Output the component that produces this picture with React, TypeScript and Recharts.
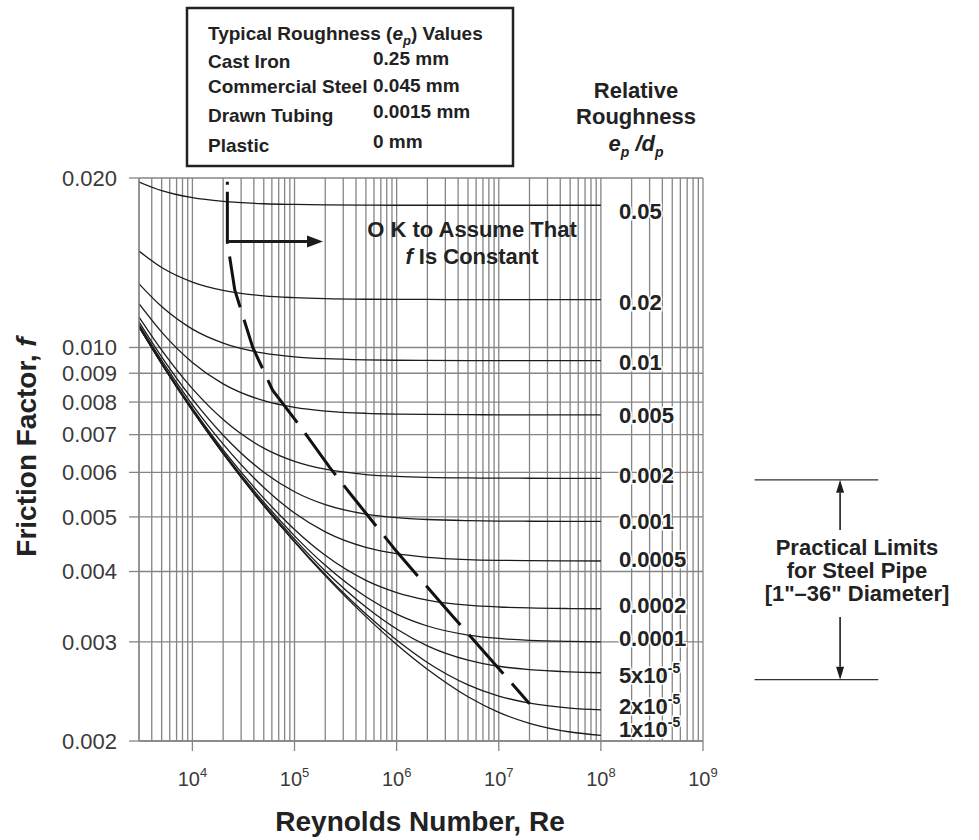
import React from "react";
import { LineChart, Line, XAxis, YAxis, CartesianGrid, ReferenceLine } from "recharts";

const FONT = "'Liberation Sans', Arial, Helvetica, sans-serif";
const GRID = "#858585";
const INK = "#1c1c1c";

const RE = [3e3, 5e3, 1e4, 2e4, 5e4, 1e5, 2e5, 5e5, 1e6, 2e6, 5e6, 1e7, 2e7, 5e7, 1e8];

// friction factor f along each relative roughness curve
const F_05 = [0.01967, 0.01899, 0.01845, 0.01817, 0.018, 0.01795, 0.01792, 0.0179, 0.01789, 0.01789, 0.01789, 0.01789, 0.01789, 0.01789, 0.01789];
const F_02 = [0.01483, 0.01387, 0.01307, 0.01263, 0.01235, 0.01226, 0.01221, 0.01218, 0.01217, 0.01217, 0.01216, 0.01216, 0.01216, 0.01216, 0.01216];
const F_01 = [0.01297, 0.01182, 0.01078, 0.01018, 0.00977, 0.009626, 0.009552, 0.009506, 0.009491, 0.009484, 0.009479, 0.009477, 0.009476, 0.009476, 0.009476];
const F_005 = [0.01196, 0.01065, 0.009408, 0.008617, 0.008044, 0.007827, 0.007711, 0.00764, 0.007616, 0.007604, 0.007597, 0.007594, 0.007593, 0.007593, 0.007593];
const F_002 = [0.01132, 0.009892, 0.008449, 0.007447, 0.006626, 0.006277, 0.006078, 0.005947, 0.005902, 0.005879, 0.005865, 0.00586, 0.005858, 0.005856, 0.005856];
const F_001 = [0.01111, 0.009626, 0.008096, 0.006986, 0.006005, 0.005543, 0.005258, 0.005059, 0.004986, 0.004948, 0.004925, 0.004917, 0.004913, 0.00491, 0.00491];
const F_0005 = [0.01099, 0.009485, 0.00791, 0.006736, 0.005641, 0.005081, 0.004705, 0.004416, 0.004303, 0.00424, 0.004201, 0.004188, 0.004182, 0.004178, 0.004176];
const F_0002 = [0.01092, 0.0094, 0.007801, 0.006578, 0.005401, 0.004751, 0.004274, 0.003858, 0.003671, 0.00356, 0.003486, 0.00346, 0.003446, 0.003438, 0.003435];
const F_0001 = [0.0109, 0.009374, 0.007761, 0.006525, 0.005312, 0.004628, 0.004102, 0.003607, 0.00336, 0.003201, 0.003085, 0.003042, 0.003019, 0.003005, 0.003];
const F_5E5 = [0.01089, 0.009364, 0.007739, 0.006497, 0.005266, 0.004567, 0.004009, 0.003459, 0.003162, 0.002952, 0.002784, 0.002715, 0.002677, 0.002653, 0.002644];
const F_2E5 = [0.01089, 0.009358, 0.00773, 0.006482, 0.00524, 0.004524, 0.003951, 0.003361, 0.003023, 0.002758, 0.002517, 0.002404, 0.002335, 0.002288, 0.002271];
const F_1E5 = [0.01088, 0.009355, 0.007725, 0.006477, 0.005232, 0.004511, 0.00393, 0.003326, 0.002968, 0.002682, 0.002397, 0.002249, 0.00215, 0.002075, 0.002047];

const CURVES = [F_05, F_02, F_01, F_005, F_002, F_001, F_0005, F_0002, F_0001, F_5E5, F_2E5, F_1E5];
const ROUGHNESS = ["0.05", "0.02", "0.01", "0.005", "0.002", "0.001", "0.0005", "0.0002", "0.0001", "5x10^-5", "2x10^-5", "1x10^-5"];
// small vertical nudges so the crowded labels do not collide
const LABEL_NUDGE = [6, 2, 1, 0, -3, 0, -2, -4, -4, 2, -4, -6];

// "OK to assume f is constant" boundary
const DASH_RE = [2.2e4, 2.2e4, 2.6e4, 3.9e4, 6.1e4, 1.17e5, 2.2e5, 3.6e5, 1e6, 2.75e6, 7.3e6, 2e7];
const DASH_F = [0.0197, 0.0154, 0.01265, 0.01, 0.0084, 0.00719, 0.00613, 0.00547, 0.00434, 0.00351, 0.00287, 0.00233];

// practical limits for 1"-36" steel pipe
const LIMITS_F = [0.00582, 0.00257];

const Y_TICKS = [0.002, 0.003, 0.004, 0.005, 0.006, 0.007, 0.008, 0.009, 0.01, 0.02];
const DECADES = [1e4, 1e5, 1e6, 1e7, 1e8, 1e9];
const X_GRID = [1e3, 1e4, 1e5, 1e6, 1e7, 1e8, 1e9]
  .flatMap((d) => [1, 2, 3, 4, 5, 6, 7, 8, 9].map((m) => m * d))
  .filter((v) => v >= 3e3 && v <= 1e9);

const data = RE.map((re, i) => {
  const row: Record<string, number> = { re };
  CURVES.forEach((c, k) => (row[`c${k}`] = c[i]));
  return row;
});
const dashData = DASH_RE.map((re, i) => ({ re, f: DASH_F[i] }));

const ReTick = (props: any) => {
  const { x, y, payload } = props;
  if (!DECADES.includes(payload.value)) return <g />;
  const exp = Math.round(Math.log10(payload.value));
  return (
    <g>
      <line x1={x} x2={x} y1={y} y2={y + 10} stroke={GRID} strokeWidth={1.3} />
      <text x={x} y={y + 45} textAnchor="middle" fontSize={20} fill="#3a3a3a" fontFamily={FONT}>
        10
        <tspan dy={-9} fontSize={13}>
          {exp}
        </tspan>
      </text>
    </g>
  );
};

const endLabel = (k: number) => (p: any) => {
  if (p.index !== RE.length - 1) return <g key={`d${k}-${p.index}`} />;
  const [base, sup] = ROUGHNESS[k].split("^");
  return (
    <text
      key={`lab${k}`}
      x={p.cx + 18}
      y={p.cy + LABEL_NUDGE[k]}
      dy="0.36em"
      fontSize={22}
      fontWeight={700}
      fill="#222"
      stroke="#fff"
      strokeWidth={3}
      paintOrder="stroke"
      fontFamily={FONT}
    >
      {base}
      {sup && (
        <tspan dy={-10} fontSize={14}>
          {sup}
        </tspan>
      )}
    </text>
  );
};

const arrow = (len: number, half: number, width: number) => (p: any) => {
  const { x1, y1, x2, y2 } = p;
  const a = Math.atan2(y2 - y1, x2 - x1);
  const bx = x2 - len * Math.cos(a);
  const by = y2 - len * Math.sin(a);
  const px = half * Math.sin(a);
  const py = half * Math.cos(a);
  return (
    <g>
      <line x1={x1} y1={y1} x2={bx} y2={by} stroke={INK} strokeWidth={width} />
      <polygon points={`${x2},${y2} ${bx - px},${by + py} ${bx + px},${by - py}`} fill={INK} />
    </g>
  );
};

const T = { fontFamily: FONT, fontWeight: 700, fill: "#222" } as const;

export default function App() {
  return (
    <div style={{ position: "absolute", left: 0, top: 0, width: 979, height: 840, background: "#fff" }}>
      <LineChart width={979} height={840} data={data} margin={{ top: 178, right: 276, bottom: 0, left: 0 }}>
        <CartesianGrid stroke={GRID} strokeWidth={1.3} />
        <XAxis
          dataKey="re"
          type="number"
          scale="log"
          domain={[3e3, 1e9]}
          allowDataOverflow
          ticks={X_GRID}
          interval={0}
          tick={ReTick}
          tickLine={false}
          tickSize={0}
          tickMargin={0}
          axisLine={{ stroke: GRID, strokeWidth: 1.3 }}
          height={99}
        />
        <YAxis
          type="number"
          scale="log"
          domain={[0.002, 0.02]}
          allowDataOverflow
          ticks={Y_TICKS}
          interval={0}
          tickFormatter={(v: number) => v.toFixed(3)}
          tick={{ fontSize: 22, fill: "#3a3a3a", fontFamily: FONT }}
          tickLine={{ stroke: GRID, strokeWidth: 1.3 }}
          tickSize={10}
          tickMargin={12}
          axisLine={{ stroke: GRID, strokeWidth: 1.3 }}
          width={139}
        />
        {CURVES.map((_, k) => (
          <Line
            key={k}
            dataKey={`c${k}`}
            type="monotone"
            stroke={INK}
            strokeWidth={1.3}
            dot={endLabel(k)}
            activeDot={false}
            isAnimationActive={false}
          />
        ))}
        <Line
          data={dashData}
          dataKey="f"
          type="linear"
          stroke="#111"
          strokeWidth={3}
          strokeDasharray="3 7 52 13 52 13 52 13 52 13 52 13 52 13 52 13 52 13 52 13 52 13 52 13 52 13"
          dot={false}
          activeDot={false}
          isAnimationActive={false}
        />
        <ReferenceLine
          segment={[{ x: 2.25e4, y: 0.01542 }, { x: 1.9e5, y: 0.01542 }]}
          ifOverflow="visible"
          shape={arrow(16, 6, 3)}
        />
        {LIMITS_F.map((f) => (
          <ReferenceLine
            key={f}
            segment={[{ x: 3.2e9, y: f }, { x: 5.2e10, y: f }]}
            ifOverflow="visible"
            stroke="#333"
            strokeWidth={1.3}
          />
        ))}
        <ReferenceLine
          segment={[{ x: 2.2e10, y: 0.00474 }, { x: 2.2e10, y: LIMITS_F[0] }]}
          ifOverflow="visible"
          shape={arrow(13, 4, 1.6)}
        />
        <ReferenceLine
          segment={[{ x: 2.2e10, y: 0.00332 }, { x: 2.2e10, y: LIMITS_F[1] }]}
          ifOverflow="visible"
          shape={arrow(13, 4, 1.6)}
        />
      </LineChart>

      <svg width={979} height={840} style={{ position: "absolute", left: 0, top: 0, pointerEvents: "none" }}>
        <rect x={187} y={8} width={326} height={158} fill="#fff" stroke="#222" strokeWidth={2.5} />
        <text x={208} y={40} fontSize={19} {...T}>
          Typical Roughness (<tspan fontStyle="italic">e</tspan>
          <tspan fontStyle="italic" fontSize={13} dy={5}>p</tspan>
          <tspan dy={-5}>) Values</tspan>
        </text>
        <text x={208} y={68} fontSize={19} {...T}>Cast Iron</text>
        <text x={373} y={65} fontSize={19} {...T}>0.25 mm</text>
        <text x={208} y={93} fontSize={19} {...T}>Commercial Steel</text>
        <text x={373} y={92} fontSize={19} {...T}>0.045 mm</text>
        <text x={208} y={122} fontSize={19} {...T}>Drawn Tubing</text>
        <text x={373} y={118} fontSize={19} {...T}>0.0015 mm</text>
        <text x={208} y={152} fontSize={19} {...T}>Plastic</text>
        <text x={373} y={148} fontSize={19} {...T}>0 mm</text>

        <text x={636} y={98} fontSize={22} textAnchor="middle" {...T}>Relative</text>
        <text x={636} y={124} fontSize={22} textAnchor="middle" {...T}>Roughness</text>
        <text x={636} y={151} fontSize={22} textAnchor="middle" fontStyle="italic" {...T}>
          e<tspan fontSize={14} dy={6}>p</tspan>
          <tspan dy={-6}> /d</tspan>
          <tspan fontSize={14} dy={6}>p</tspan>
        </text>

        <text x={472} y={237} fontSize={22} textAnchor="middle" {...T}>O K to Assume That</text>
        <text x={472} y={264} fontSize={22} textAnchor="middle" {...T}>
          <tspan fontStyle="italic">f</tspan> Is Constant
        </text>

        <text x={857} y={555} fontSize={22} textAnchor="middle" {...T}>Practical Limits</text>
        <text x={857} y={578} fontSize={22} textAnchor="middle" {...T}>for Steel Pipe</text>
        <text x={857} y={601} fontSize={22} textAnchor="middle" {...T}>[1"–36" Diameter]</text>

        <text x={36} y={447} fontSize={28} textAnchor="middle" transform="rotate(-90 36 447)" {...T}>
          Friction Factor, <tspan fontStyle="italic">f</tspan>
        </text>
        <text x={420} y={831} fontSize={28} textAnchor="middle" {...T}>Reynolds Number, Re</text>
      </svg>
    </div>
  );
}
